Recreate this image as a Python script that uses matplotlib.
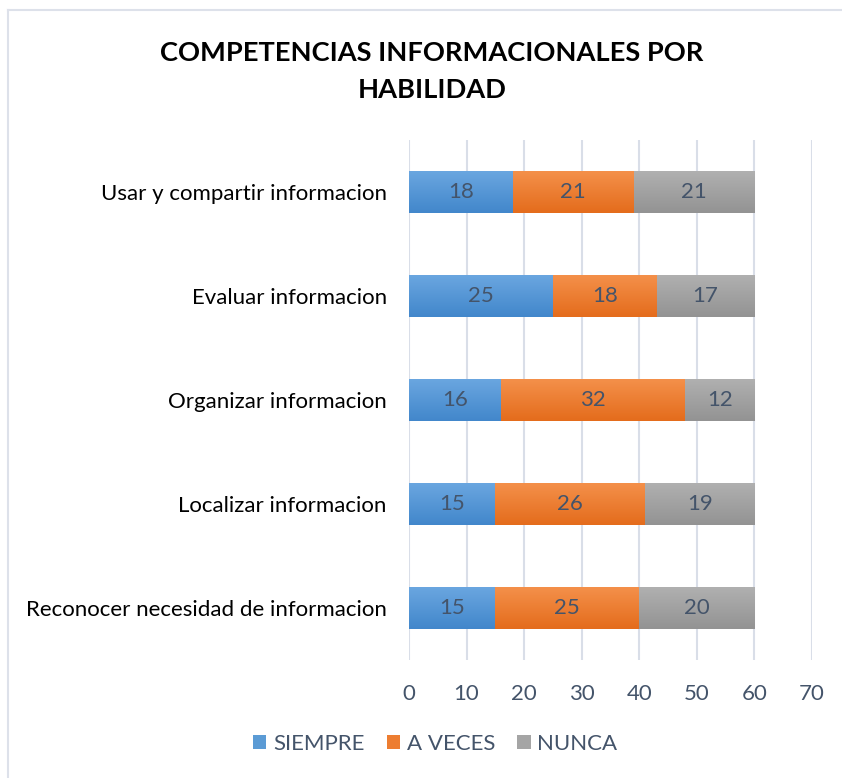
import numpy as np
import matplotlib.pyplot as plt
from matplotlib.colors import to_rgb
from matplotlib.patches import Patch
from matplotlib.lines import Line2D

categorias = ["Reconocer necesidad de informacion", "Localizar informacion",
              "Organizar informacion", "Evaluar informacion",
              "Usar y compartir informacion"]
siempre = [15, 15, 16, 25, 18]
a_veces = [25, 26, 32, 18, 21]
nunca = [20, 19, 12, 17, 21]
series = ["SIEMPRE", "A VECES", "NUNCA"]
x_ticks = [0, 10, 20, 30, 40, 50, 60, 70]

plt.rcParams['font.family'] = ['Lato', 'DejaVu Sans']

colores = ["#5B9BD5", "#ED7D31", "#A5A5A5"]
# extremos del degradado (arriba claro, abajo oscuro)
grad = [("#6AA6E0", "#4287CB"), ("#F4904A", "#E46C1C"), ("#B0B0B0", "#939393")]

fig = plt.figure(figsize=(8.42, 7.78), dpi=100)
ax = fig.add_axes([0.4857, 0.1517, 0.4787, 0.6683])

y = np.arange(len(categorias))
izq = np.zeros(len(categorias))
for vals, (c1, c2), col in zip([siempre, a_veces, nunca], grad, colores):
    barras = ax.barh(y, vals, left=izq, height=0.40, color=col,
                     edgecolor="none", zorder=2)
    for b, v in zip(barras, vals):
        # degradado vertical dentro de la barra
        x0, y0 = b.get_x(), b.get_y()
        w, h = b.get_width(), b.get_height()
        top = np.array(to_rgb(c1))
        bot = np.array(to_rgb(c2))
        t = np.linspace(0, 1, 64)[:, None]
        img = (top * (1 - t) + bot * t)[:, None, :]
        ax.imshow(img, extent=(x0, x0 + w, y0, y0 + h), origin="upper",
                  aspect="auto", zorder=3, interpolation="bilinear")
        ax.text(x0 + w / 2, y0 + h / 2, str(v), ha="center", va="center",
                fontsize=16, color="#44546A", zorder=4)
    izq += np.array(vals)

ax.set_xlim(0, 70)
ax.set_ylim(-0.5, 4.5)
ax.set_xticks(x_ticks)
ax.set_xticklabels([str(t) for t in x_ticks], fontsize=16, color="#44546A")
ax.set_yticks(y)
ax.set_yticklabels(categorias, fontsize=16, color="#000000")
ax.tick_params(axis="both", length=0)
ax.tick_params(axis="x", pad=17)
ax.tick_params(axis="y", pad=16)
ax.grid(axis="x", color="#D9DEE8", linewidth=1.5, zorder=0)
for s in ax.spines.values():
    s.set_visible(False)

fig.text(0.513, 0.932, "COMPETENCIAS INFORMACIONALES POR", ha="center", va="center",
         fontsize=19.6, fontweight="bold", color="#000000")
fig.text(0.513, 0.884, "HABILIDAD", ha="center", va="center",
         fontsize=19.6, fontweight="bold", color="#000000")

handles = [Patch(facecolor=c, edgecolor="none") for c in colores]
leg = fig.legend(handles, series, loc="center", bbox_to_anchor=(0.517, 0.044), ncol=3,
                 frameon=False, fontsize=16, handlelength=0.6, handleheight=0.6,
                 handletextpad=0.3, columnspacing=1.0)
for t in leg.get_texts():
    t.set_color("#44546A")

# borde del grafico (solo izquierda y arriba visibles)
fig.add_artist(Line2D([0.0095, 0.0095], [0.0, 0.987], transform=fig.transFigure,
                      color="#DDE1EA", linewidth=1.5))
fig.add_artist(Line2D([0.0095, 1.0], [0.987, 0.987], transform=fig.transFigure,
                      color="#DDE1EA", linewidth=1.5))

fig.savefig("out.png", dpi=100)
